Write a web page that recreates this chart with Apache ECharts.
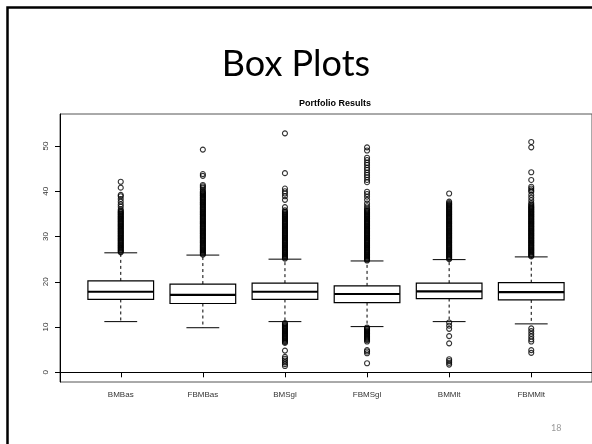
<!DOCTYPE html>
<html>
<head>
<meta charset="utf-8">
<script src="https://cdn.jsdelivr.net/npm/echarts@6/dist/echarts.min.js"></script>
<style>
  html, body { margin: 0; padding: 0; background: #fff; }
  #chart { width: 592px; height: 444px; }
</style>
</head>
<body>
<div id="chart"></div>
<script>
// Portfolio simulation results, one box per strategy
const categories = ['BMBas', 'FBMBas', 'BMSgl', 'FBMSgl', 'BMMlt', 'FBMMlt'];

// Box statistics: [lower whisker, Q1, median, Q3, upper whisker]
const statBMBas  = [11.2, 16.1, 17.8, 20.2, 26.4];
const statFBMBas = [9.85, 15.2, 17.1, 19.5, 25.9];
const statBMSgl  = [11.2, 16.1, 17.8, 19.7, 25.0];
const statFBMSgl = [10.1, 15.4, 17.3, 19.1, 24.6];
const statBMMlt  = [11.2, 16.3, 17.9, 19.7, 24.9];
const statFBMMlt = [10.7, 16.0, 17.7, 19.8, 25.5];

// Outlying observations per strategy
const outBMBas = [26.5, 26.7, 26.9, 27.1, 27.3, 27.5, 27.7, 27.9, 28.1, 28.3, 28.5, 28.7, 28.9, 29.1,
  29.3, 29.5, 29.7, 29.9, 30.1, 30.3, 30.5, 30.7, 30.9, 31.1, 31.3, 31.5, 31.7, 31.9, 32.1, 32.3,
  32.5, 32.7, 32.9, 33.1, 33.3, 33.5, 33.7, 33.9, 34.1, 34.3, 34.5, 34.7, 34.9, 35.1, 35.3, 35.5,
  35.7, 36.0, 36.6, 37.1, 37.7, 38.3, 38.9, 39.2, 40.8, 42.1];
const outFBMBas = [26.0, 26.2, 26.4, 26.6, 26.8, 27.0, 27.2, 27.4, 27.6, 27.8, 28.0, 28.2, 28.4, 28.6,
  28.8, 29.0, 29.2, 29.4, 29.6, 29.8, 30.0, 30.2, 30.4, 30.6, 30.8, 31.0, 31.2, 31.4, 31.6, 31.8,
  32.0, 32.2, 32.4, 32.6, 32.8, 33.0, 33.2, 33.4, 33.6, 33.8, 34.0, 34.2, 34.4, 34.6, 34.8, 35.0,
  35.2, 35.4, 35.6, 35.8, 36.0, 36.2, 36.4, 36.6, 36.8, 37.0, 37.2, 37.4, 37.6, 37.8, 38.0, 38.2,
  38.4, 38.6, 38.8, 39.0, 39.2, 39.4, 39.6, 39.8, 40.0, 40.4, 40.8, 41.1, 41.4, 43.4, 43.8, 49.2];
const outBMSgl = [25.1, 25.3, 25.5, 25.7, 25.9, 26.1, 26.3, 26.5, 26.7, 26.9, 27.1, 27.3, 27.5, 27.7,
  27.9, 28.1, 28.3, 28.5, 28.7, 28.9, 29.1, 29.3, 29.5, 29.7, 29.9, 30.1, 30.3, 30.5, 30.7, 30.9,
  31.1, 31.3, 31.5, 31.7, 31.9, 32.1, 32.3, 32.5, 32.7, 32.9, 33.1, 33.3, 33.5, 33.7, 33.9, 34.1,
  34.3, 34.5, 34.7, 34.9, 35.1, 35.3, 35.5, 35.8, 36.5, 38.1, 38.9, 39.5, 40.0, 40.6, 44.0, 52.8,
  10.9, 10.7, 10.5, 10.3, 10.1, 9.9, 9.7, 9.5, 9.3, 9.1, 8.9, 8.7, 8.5, 8.3, 8.1, 7.9, 7.7, 7.5,
  7.3, 7.1, 6.9, 6.7, 6.5, 4.8, 3.4, 3.0, 2.6, 2.2, 1.8, 1.4];
const outFBMSgl = [24.7, 24.9, 25.1, 25.3, 25.5, 25.7, 25.9, 26.1, 26.3, 26.5, 26.7, 26.9, 27.1, 27.3,
  27.5, 27.7, 27.9, 28.1, 28.3, 28.5, 28.7, 28.9, 29.1, 29.3, 29.5, 29.7, 29.9, 30.1, 30.3, 30.5,
  30.7, 30.9, 31.1, 31.3, 31.5, 31.7, 31.9, 32.1, 32.3, 32.5, 32.7, 32.9, 33.1, 33.3, 33.5, 33.7,
  33.9, 34.1, 34.3, 34.5, 34.7, 34.9, 35.1, 35.3, 35.5, 35.7, 35.9, 36.2, 36.7, 37.3, 38.1, 38.8,
  39.4, 39.9, 42.0, 42.5, 43.1, 43.6, 44.1, 44.7, 45.2, 45.8, 46.3, 46.9, 47.4, 49.0, 49.7,
  9.9, 9.7, 9.5, 9.3, 9.1, 8.9, 8.7, 8.5, 8.3, 8.1, 7.9, 7.7, 7.5, 7.3, 7.1, 6.8, 4.9, 4.6, 4.2, 2.0];
const outBMMlt = [25.0, 25.2, 25.4, 25.6, 25.8, 26.0, 26.2, 26.4, 26.6, 26.8, 27.0, 27.2, 27.4, 27.6,
  27.8, 28.0, 28.2, 28.4, 28.6, 28.8, 29.0, 29.2, 29.4, 29.6, 29.8, 30.0, 30.2, 30.4, 30.6, 30.8,
  31.0, 31.2, 31.4, 31.6, 31.8, 32.0, 32.2, 32.4, 32.6, 32.8, 33.0, 33.2, 33.4, 33.6, 33.8, 34.0,
  34.2, 34.4, 34.6, 34.8, 35.0, 35.2, 35.4, 35.6, 35.8, 36.0, 36.2, 36.4, 36.6, 36.8, 37.0, 37.2,
  37.4, 37.7, 39.5,
  11.0, 10.3, 9.6, 8.0, 6.4, 2.9, 2.5, 2.1, 1.7];
const outFBMMlt = [25.6, 25.8, 26.0, 26.2, 26.4, 26.6, 26.8, 27.0, 27.2, 27.4, 27.6, 27.8, 28.0, 28.2,
  28.4, 28.6, 28.8, 29.0, 29.2, 29.4, 29.6, 29.8, 30.0, 30.2, 30.4, 30.6, 30.8, 31.0, 31.2, 31.4,
  31.6, 31.8, 32.0, 32.2, 32.4, 32.6, 32.8, 33.0, 33.2, 33.4, 33.6, 33.8, 34.0, 34.2, 34.4, 34.6,
  34.8, 35.0, 35.2, 35.4, 35.6, 35.8, 36.0, 36.2, 36.4, 36.6, 36.8, 37.1, 37.4, 38.0, 38.6, 39.2,
  39.9, 40.2, 40.6, 41.0, 42.5, 44.2, 49.7, 50.9,
  9.7, 9.1, 8.5, 7.9, 7.3, 6.8, 4.9, 4.3];

const yTicks = [0, 10, 20, 30, 40, 50];
const xTicks = [1, 2, 3, 4, 5, 6];

const stats = [statBMBas, statFBMBas, statBMSgl, statFBMSgl, statBMMlt, statFBMMlt];
const outliers = [outBMBas, outFBMBas, outBMSgl, outFBMSgl, outBMMlt, outFBMMlt];

const boxData = stats.map((s, i) => [i + 1].concat(s));
const pointData = [];
outliers.forEach((arr, i) => arr.forEach(v => pointData.push([i + 1, v])));

// R-style box: dashed whiskers, solid staples, thick median
function renderBox(params, api) {
  const x = api.value(0);
  const unit = api.size([1, 0])[0];
  const halfBox = unit * 0.4;
  const halfCap = unit * 0.2;
  const lo = api.coord([x, api.value(1)]);
  const q1 = api.coord([x, api.value(2)]);
  const md = api.coord([x, api.value(3)]);
  const q3 = api.coord([x, api.value(4)]);
  const hi = api.coord([x, api.value(5)]);
  const cx = md[0];
  const solid = { stroke: '#000', lineWidth: 1, fill: null };
  const dashed = { stroke: '#000', lineWidth: 1, lineDash: [3, 3], fill: null };
  return {
    type: 'group',
    children: [
      { type: 'line', shape: { x1: cx, y1: q3[1], x2: cx, y2: hi[1] }, style: dashed },
      { type: 'line', shape: { x1: cx, y1: q1[1], x2: cx, y2: lo[1] }, style: dashed },
      { type: 'line', shape: { x1: cx - halfCap, y1: hi[1], x2: cx + halfCap, y2: hi[1] }, style: solid },
      { type: 'line', shape: { x1: cx - halfCap, y1: lo[1], x2: cx + halfCap, y2: lo[1] }, style: solid },
      { type: 'rect', shape: { x: cx - halfBox, y: q3[1], width: halfBox * 2, height: q1[1] - q3[1] },
        style: { stroke: '#000', lineWidth: 1.2, fill: '#fff' } },
      { type: 'line', shape: { x1: cx - halfBox, y1: md[1], x2: cx + halfBox, y2: md[1] },
        style: { stroke: '#000', lineWidth: 2.2 } }
    ]
  };
}

const chart = echarts.init(document.getElementById('chart'), null, { renderer: 'canvas' });
chart.setOption({
  animation: false,
  backgroundColor: '#fff',
  title: [
    {
      text: 'Box Plots', left: 'center', top: 41,
      textStyle: { fontFamily: 'Lato', fontWeight: 'normal', fontSize: 36, color: '#000' }
    },
    {
      text: 'Portfolio Results', left: 330, top: 94, textAlign: 'center',
      textStyle: { fontFamily: 'Liberation Sans', fontWeight: 'bold', fontSize: 9, color: '#000' }
    }
  ],
  graphic: [
    { type: 'rect', shape: { x: 7.5, y: 7.5, width: 700, height: 600 },
      style: { stroke: '#000', lineWidth: 2.5, fill: null }, silent: true },
    { type: 'text', left: 551, top: 424,
      style: { text: '18', fill: '#999', font: '9px Lato' } }
  ],
  grid: {
    left: 60, top: 114, width: 540, height: 268,
    show: true, borderColor: '#555', borderWidth: 1, backgroundColor: 'transparent'
  },
  xAxis: {
    type: 'value', min: 0.26, max: 6.74,
    axisLine: { show: true, lineStyle: { color: '#000', width: 1 } },
    axisTick: { show: true, length: 5, inside: false, customValues: xTicks,
      lineStyle: { color: '#000' } },
    axisLabel: {
      customValues: xTicks, margin: 9,
      formatter: v => categories[Math.round(v) - 1] || '',
      fontFamily: 'Liberation Sans', fontSize: 8, color: '#333'
    },
    splitLine: { show: false }
  },
  yAxis: {
    type: 'value', min: -2.14, max: 57.07,
    axisLine: { show: true, lineStyle: { color: '#000', width: 1 } },
    axisTick: { show: true, length: 5, inside: false, customValues: yTicks,
      lineStyle: { color: '#000' } },
    axisLabel: {
      customValues: yTicks, rotate: 90, margin: 10,
      fontFamily: 'Liberation Sans', fontSize: 8, color: '#333'
    },
    splitLine: { show: false }
  },
  series: [
    {
      type: 'scatter', data: pointData, symbol: 'circle', symbolSize: 5,
      itemStyle: { color: 'rgba(255,255,255,0)', borderColor: '#000', borderWidth: 1.1 },
      z: 3
    },
    {
      type: 'custom', data: boxData, renderItem: renderBox,
      encode: { x: 0, y: [1, 2, 3, 4, 5] }, z: 2
    }
  ]
});
</script>
</body>
</html>
